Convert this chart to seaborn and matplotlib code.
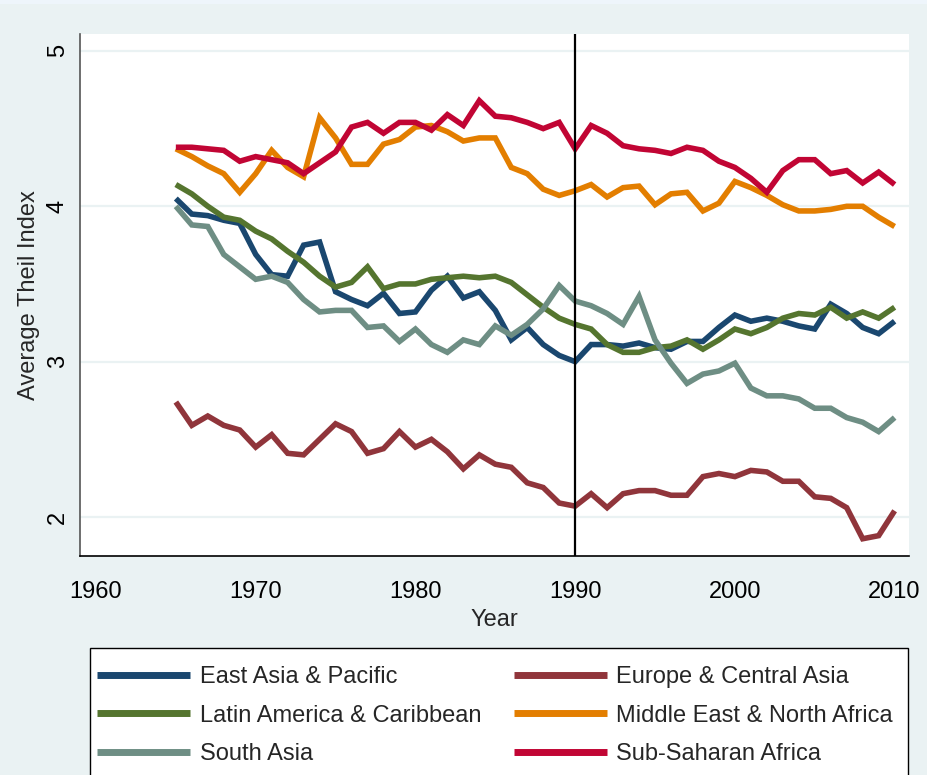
import numpy as np
import pandas as pd
import matplotlib
matplotlib.use("Agg")
import matplotlib.pyplot as plt
import seaborn as sns

# Data (Average Theil Index by region, 1965-2010)
years = list(range(1965, 2011))

east_asia = [4.05, 3.95, 3.94, 3.91, 3.89, 3.69, 3.56, 3.55, 3.75, 3.77,
             3.45, 3.40, 3.36, 3.44, 3.31, 3.32, 3.46, 3.55, 3.41, 3.45,
             3.33, 3.14, 3.22, 3.11, 3.04, 3.00, 3.11, 3.11, 3.10, 3.12,
             3.09, 3.08, 3.13, 3.13, 3.22, 3.30, 3.26, 3.28, 3.26, 3.23,
             3.21, 3.37, 3.31, 3.22, 3.18, 3.26]

europe = [2.74, 2.59, 2.65, 2.59, 2.56, 2.45, 2.53, 2.41, 2.40, 2.50,
          2.60, 2.55, 2.41, 2.44, 2.55, 2.45, 2.50, 2.42, 2.31, 2.40,
          2.34, 2.32, 2.22, 2.19, 2.09, 2.07, 2.15, 2.06, 2.15, 2.17,
          2.17, 2.14, 2.14, 2.26, 2.28, 2.26, 2.30, 2.29, 2.23, 2.23,
          2.13, 2.12, 2.06, 1.86, 1.88, 2.04]

latin_america = [4.14, 4.08, 4.00, 3.93, 3.91, 3.84, 3.79, 3.71, 3.64, 3.55,
                 3.48, 3.51, 3.61, 3.47, 3.50, 3.50, 3.53, 3.54, 3.55, 3.54,
                 3.55, 3.51, 3.43, 3.35, 3.28, 3.24, 3.21, 3.11, 3.06, 3.06,
                 3.09, 3.10, 3.14, 3.08, 3.14, 3.21, 3.18, 3.22, 3.28, 3.31,
                 3.30, 3.35, 3.28, 3.32, 3.28, 3.35]

middle_east = [4.37, 4.32, 4.26, 4.21, 4.09, 4.21, 4.36, 4.25, 4.19, 4.57,
               4.44, 4.27, 4.27, 4.40, 4.43, 4.51, 4.52, 4.48, 4.42, 4.44,
               4.44, 4.25, 4.21, 4.11, 4.07, 4.10, 4.14, 4.06, 4.12, 4.13,
               4.01, 4.08, 4.09, 3.97, 4.02, 4.16, 4.12, 4.07, 4.01, 3.97,
               3.97, 3.98, 4.00, 4.00, 3.93, 3.87]

south_asia = [4.00, 3.88, 3.87, 3.69, 3.61, 3.53, 3.55, 3.51, 3.40, 3.32,
              3.33, 3.33, 3.22, 3.23, 3.13, 3.21, 3.11, 3.06, 3.14, 3.11,
              3.23, 3.17, 3.24, 3.34, 3.49, 3.39, 3.36, 3.31, 3.24, 3.42,
              3.14, 2.99, 2.86, 2.92, 2.94, 2.99, 2.83, 2.78, 2.78, 2.76,
              2.70, 2.70, 2.64, 2.61, 2.55, 2.64]

sub_saharan = [4.38, 4.38, 4.37, 4.36, 4.29, 4.32, 4.30, 4.28, 4.21, 4.28,
               4.35, 4.51, 4.54, 4.47, 4.54, 4.54, 4.49, 4.59, 4.52, 4.68,
               4.58, 4.57, 4.54, 4.50, 4.54, 4.37, 4.52, 4.47, 4.39, 4.37,
               4.36, 4.34, 4.38, 4.36, 4.29, 4.25, 4.18, 4.09, 4.23, 4.30,
               4.30, 4.21, 4.23, 4.15, 4.22, 4.14]

regions = ["East Asia & Pacific", "Europe & Central Asia",
           "Latin America & Caribbean", "Middle East & North Africa",
           "South Asia", "Sub-Saharan Africa"]
series = [east_asia, europe, latin_america, middle_east, south_asia, sub_saharan]
colors = ["#1a476f", "#90353b", "#55752f", "#e37e00", "#6e8e84", "#c10534"]

df = pd.DataFrame({
    "Year": np.tile(years, len(regions)),
    "theil": np.concatenate(series),
    "region": np.repeat(regions, len(years)),
})

sns.set_theme(style="white")
plt.rcParams["font.family"] = ["Liberation Sans", "DejaVu Sans"]

bg = "#eaf2f3"
W, H = 927, 775
fig = plt.figure(figsize=(W / 100, H / 100), dpi=100, facecolor=bg)
ax = fig.add_axes([80 / W, 1 - 556 / H, (909 - 80) / W, (556 - 34) / H])
ax.set_facecolor("white")

# thin lighter strip at the very top
fig.patches.append(plt.Rectangle((0, 1 - 4 / H), 1, 4 / H, transform=fig.transFigure,
                                 facecolor="#eef5fb", edgecolor="none", zorder=0))

for y in [2, 3, 4, 5]:
    ax.axhline(y, color=bg, lw=1.6, zorder=0)

sns.lineplot(data=df, x="Year", y="theil", hue="region", hue_order=regions,
             palette=colors, lw=4, ax=ax, legend=True)
for line in ax.get_lines():
    line.set_solid_capstyle("butt")
    line.set_solid_joinstyle("miter")

ax.axvline(1990, color="black", lw=1.6, zorder=5)

ax.set_xlim(1959.0, 2010.9)
ax.set_ylim(1.749, 5.109)
ax.set_xticks([1960, 1970, 1980, 1990, 2000, 2010])
ax.set_yticks([2, 3, 4, 5])
ax.set_yticklabels(["2", "3", "4", "5"], rotation=90, va="center")
ax.tick_params(axis="both", labelsize=17, length=7, width=1, direction="out",
               colors="#333333", labelcolor="black")
ax.tick_params(axis="x", pad=11)
ax.tick_params(axis="y", pad=1)
ax.set_xlabel("Year", fontsize=17, labelpad=4)
ax.set_ylabel("Average Theil Index", fontsize=17)
ax.yaxis.set_label_coords(-0.048, 0.5)

for side in ["top", "right"]:
    ax.spines[side].set_visible(False)
ax.spines["left"].set_color("#555555")
ax.spines["left"].set_linewidth(1.2)
ax.spines["bottom"].set_color("black")
ax.spines["bottom"].set_linewidth(1.2)

# legend box (runs off the bottom edge, as in the reference)
fig.patches.append(plt.Rectangle((90 / W, -0.05), (908 - 90) / W, 1 - 648 / H + 0.05,
                                 transform=fig.transFigure, facecolor="white",
                                 edgecolor="black", lw=1.0, zorder=1))

handles, labels = ax.get_legend_handles_labels()
ax.get_legend().remove()
order = [0, 2, 4, 1, 3, 5]
leg = fig.legend([handles[i] for i in order], [labels[i] for i in order],
                 ncol=2, loc="upper left",
                 bbox_to_anchor=(97 / W, 0, (893 - 97) / W, 1 - 666 / H),
                 bbox_transform=fig.transFigure, mode="expand", borderaxespad=0,
                 fontsize=17, handlelength=3.95, handletextpad=0.40,
                 labelspacing=0.70, columnspacing=1.0, borderpad=0,
                 frameon=False)
leg.set_zorder(2)
for line in leg.get_lines():
    line.set_linewidth(5)
    line.set_solid_capstyle("butt")

fig.savefig("out.png", dpi=100, facecolor=bg)
